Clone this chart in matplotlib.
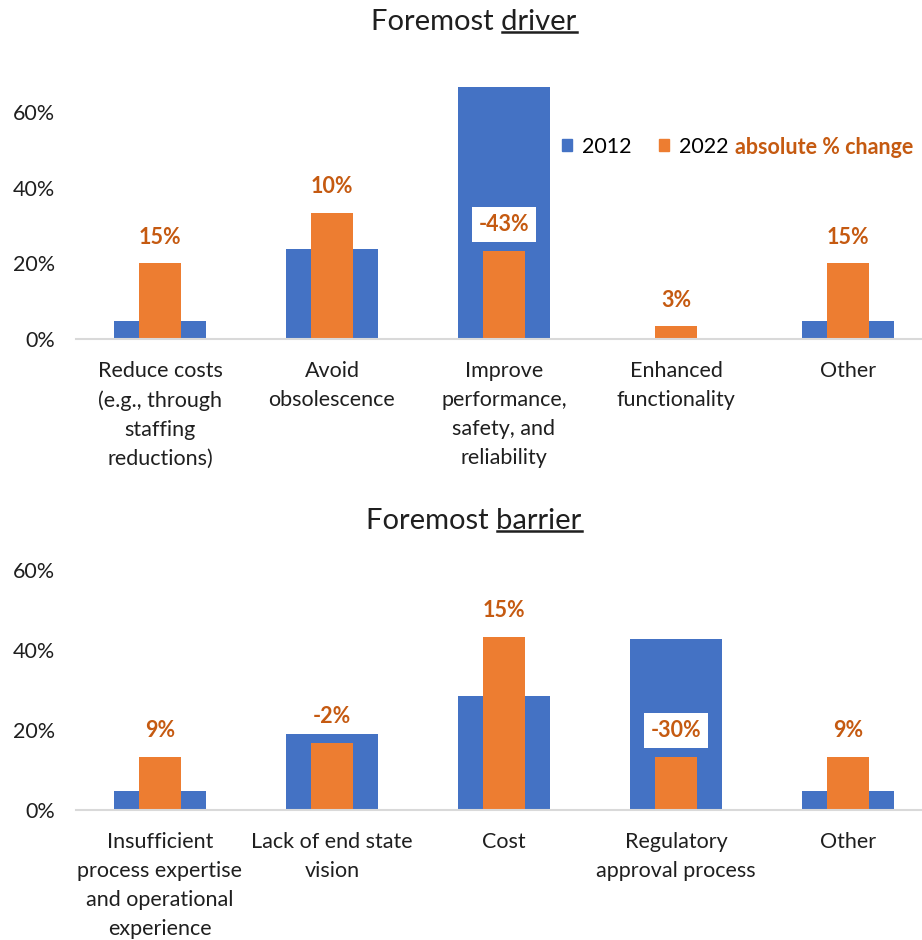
import matplotlib
matplotlib.use("Agg")
import matplotlib.pyplot as plt
from matplotlib.patches import Patch

plt.rcParams['font.family'] = ['Lato', 'DejaVu Sans']

BLUE = '#4472C4'
ORANGE = '#ED7D31'
LABEL_ORANGE = '#C55A11'
TEXT = '#1f1f1f'
FS = 15.5

# share of respondents (%)
driver_cats = ['Reduce costs\n(e.g., through\nstaffing\nreductions)', 'Avoid\nobsolescence',
               'Improve\nperformance,\nsafety, and\nreliability', 'Enhanced\nfunctionality', 'Other']
driver_2012 = [4.76, 23.81, 66.67, 0.0, 4.76]
driver_2022 = [20.00, 33.33, 23.33, 3.33, 20.00]

barrier_cats = ['Insufficient\nprocess expertise\nand operational\nexperience', 'Lack of end state\nvision',
                'Cost', 'Regulatory\napproval process', 'Other']
barrier_2012 = [4.76, 19.05, 28.57, 42.86, 4.76]
barrier_2022 = [13.33, 16.67, 43.33, 13.33, 13.33]

yticks = [0, 20, 40, 60]

fig = plt.figure(figsize=(9.22, 9.40), dpi=100)
W, H = 922, 940


def panel(rect, cats, v12, v22, ymax):
    ax = fig.add_axes(rect)
    x = range(len(cats))
    ax.bar(x, v12, width=0.53, color=BLUE, zorder=2)
    ax.bar(x, v22, width=0.24, color=ORANGE, zorder=3)
    for i, (a, b) in enumerate(zip(v12, v22)):
        ch = round(b - a)
        # labels that sit on top of the blue bar get a white box
        box = dict(boxstyle='square,pad=0.33', fc='white', ec='none') if a - b > 5 else None
        ax.annotate(f'{ch}%', (i, b), xytext=(0, 19), textcoords='offset points',
                    ha='center', va='center', fontsize=FS, fontweight='bold',
                    color=LABEL_ORANGE, zorder=4, bbox=box)
    ax.set_xlim(-0.488, 4.43)
    ax.set_ylim(0, ymax)
    ax.set_yticks(yticks)
    ax.set_yticklabels([f'{t}%' for t in yticks])
    ax.set_xticks(list(x))
    ax.set_xticklabels(cats, linespacing=1.55)
    ax.tick_params(axis='both', length=0, labelsize=FS, labelcolor=TEXT)
    ax.tick_params(axis='x', pad=16)
    ax.tick_params(axis='y', pad=15)
    for s in ['top', 'right', 'left']:
        ax.spines[s].set_visible(False)
    ax.spines['bottom'].set_color('#D9D9D9')
    ax.spines['bottom'].set_linewidth(1.5)
    ax.spines['bottom'].set_zorder(5)
    return ax


ax1 = panel([76 / W, (H - 339) / H, 846 / W, 264.6 / H],
            driver_cats, driver_2012, driver_2022, 70)
ax2 = panel([76 / W, (H - 810) / H, 846 / W, 240 / H],
            barrier_cats, barrier_2012, barrier_2022, 60)

# legend
ax1.legend(handles=[Patch(color=BLUE, label='2012'), Patch(color=ORANGE, label='2022')],
           loc='center left', bbox_to_anchor=(562 / W, (H - 147) / H),
           bbox_transform=fig.transFigure, ncol=2, frameon=False,
           fontsize=FS, handlelength=0.47, handleheight=0.47,
           handletextpad=0.47, columnspacing=1.25, borderpad=0, borderaxespad=0)
fig.text(735 / W, (H - 148) / H, 'absolute % change', ha='left', va='center',
         fontsize=FS, fontweight='bold', color=LABEL_ORANGE)


def title(y_px, first, under):
    full = fig.text(474 / W, (H - y_px) / H, f'{first} {under}', ha='center',
                    va='center', fontsize=21, color=TEXT)
    r = fig.canvas.get_renderer()
    bb = full.get_window_extent(r)
    probe = fig.text(0, 0, under, fontsize=21)
    w = probe.get_window_extent(r).width
    probe.remove()
    yline = bb.y0 + 3
    fig.add_artist(plt.Line2D([bb.x1 - w, bb.x1], [yline, yline], transform=None,
                              color=TEXT, lw=1.8))


title(22, 'Foremost', 'driver')
title(521, 'Foremost', 'barrier')

fig.savefig('out.png', dpi=100)
